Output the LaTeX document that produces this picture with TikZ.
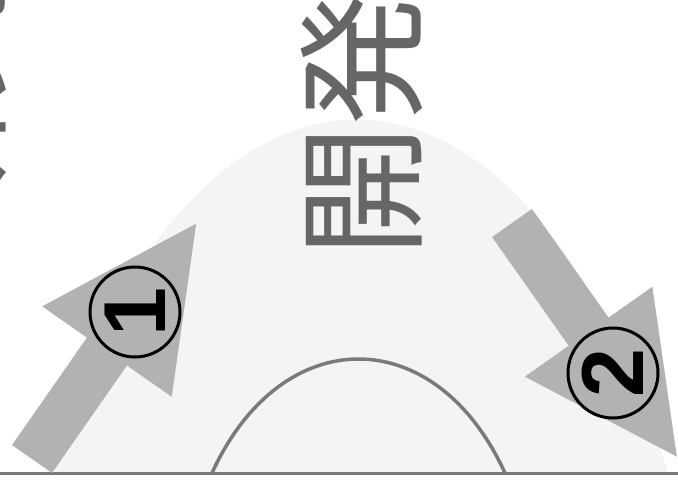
\documentclass[tikz,border=0pt]{standalone}
\usepackage{fontspec}
\newfontfamily\cjk{Noto Sans CJK JP}
\newfontfamily\digitfont{Liberation Sans}
\definecolor{domefill}{HTML}{F4F4F4}
\definecolor{arrowgray}{HTML}{B2B2B2}
\definecolor{linegray}{HTML}{7A7A7A}
\definecolor{textgray}{HTML}{666666}
\tikzset{
  dome/.style={fill=domefill},
  arcline/.style={draw=linegray, line width=3.5pt},
  groundline/.style={draw=linegray, line width=2.2pt},
  bigarrow/.style={fill=arrowgray},
  numcircle/.style={circle, draw=black, line width=3pt, minimum size=90pt, inner sep=0pt, rotate=90,
    font=\digitfont\bfseries\fontsize{88}{88}\selectfont},
  kanji/.style={text=textgray, rotate=90, inner sep=0pt, font=\cjk\fontsize{132}{132}\selectfont}
}
\begin{document}
\begin{tikzpicture}[x=1pt,y=-1pt]
\useasboundingbox (0,0) rectangle (678,490);
\clip (0,0) rectangle (678,490);
% dome
\fill[dome] (45,473) .. controls (193,2) and (520,2) .. (668,473) -- cycle;
% inner arc
\draw[arcline] (212,473) .. controls (281.6,321) and (435.4,321) .. (505,473);
% ground line
\draw[groundline] (0,473.5) -- (678,473.5);
% texts
\node[kanji] (research) at (-54,102) {研究};
\node[kanji] (dev) at (362,125) {開発};
% arrow 1
\begin{scope}[shift={(32,459)}, rotate=55.1]
  \fill[bigarrow] (0,-24.4) -- (131,-24.4) -- (131,-79) -- (287,0) -- (131,79) -- (131,24.4) -- (0,24.4) -- cycle;
\end{scope}
% arrow 2
\begin{scope}[shift={(512,223)}, rotate=-54.8]
  \fill[bigarrow] (0,-24.4) -- (133,-24.4) -- (133,-78) -- (286,0) -- (133,78) -- (133,24.4) -- (0,24.4) -- cycle;
\end{scope}
\node[numcircle] (one) at (135,312) {1};
\node[numcircle] (two) at (613,373) {2};
\end{tikzpicture}
\end{document}
